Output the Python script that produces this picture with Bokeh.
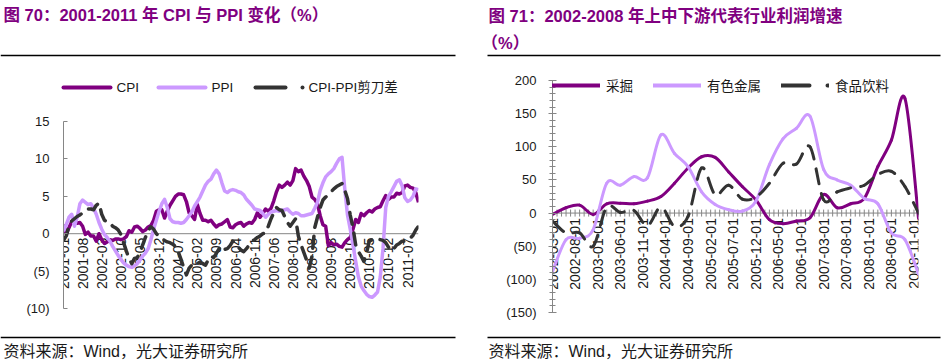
import math
from bokeh.plotting import figure
from bokeh.models import (Range1d, FixedTicker, Span, Legend, LegendItem, ColumnDataSource)
from bokeh.layouts import row, column
from bokeh.core.properties import value
from bokeh.embed import file_html
from bokeh.resources import INLINE

# ---------------- data: left chart (monthly, from 2001-01) ----------------
left_start = "2001-01"
cpi = [1.2, 0.0, 0.8, 1.6, 1.7, 1.4, 1.5, 1.0, -0.1, 0.2, -0.3, -0.3,
       -1.0, 0.0, -0.8, -1.3, -1.1, -0.8, -0.9, -0.7, -0.7, -0.8, -0.7, -0.4,
       0.4, 0.2, 0.9, 1.0, 0.7, 0.3, 0.5, 0.9, 1.1, 1.8, 3.0, 3.2,
       3.2, 2.1, 3.0, 3.8, 4.4, 5.0, 5.3, 5.3, 5.2, 4.3, 2.8, 2.4,
       1.9, 3.9, 2.7, 1.8, 1.8, 1.6, 1.8, 1.3, 0.9, 1.2, 1.3, 1.6,
       1.9, 0.9, 0.8, 1.2, 1.4, 1.5, 1.0, 1.3, 1.5, 1.4, 1.9, 2.8,
       2.2, 2.7, 3.3, 3.0, 3.4, 4.4, 5.6, 6.5, 6.2, 6.5, 6.9, 6.5,
       7.1, 8.7, 8.3, 8.5, 7.7, 7.1, 6.3, 4.9, 4.6, 4.0, 2.4, 1.2,
       1.0, -1.6, -1.2, -1.5, -1.4, -1.7, -1.8, -1.2, -0.8, -0.5, 0.6, 1.9,
       1.5, 2.7, 2.4, 2.8, 3.1, 2.9, 3.3, 3.5, 3.6, 4.4, 5.1, 4.6,
       4.9, 4.9, 5.4, 5.3, 5.5, 6.4, 6.5, 6.2, 6.1, 5.5, 4.2]
ppi = [0.3, 1.2, 2.2, 2.6, 1.0, 2.2, 4.0, 4.5, 4.2, 3.9, 4.0, 3.4,
       2.6, 1.5, 0.6, -0.1, -0.5, -1.0, -1.7, -2.3, -2.9, -3.4, -3.9, -4.2,
       -4.4, -4.5, -4.3, -4.0, -3.5, -3.0, -2.6, -2.0, -0.8, 0.6, 1.8, 3.0,
       4.0, 4.6, 3.5, 2.0, 1.6, 1.5, 1.5, 1.4, 1.5, 1.9, 2.4, 2.9,
       3.7, 4.3, 4.9, 5.7, 6.5, 7.0, 7.3, 8.0, 8.5, 8.0, 6.8, 5.7,
       5.5, 5.8, 5.9, 5.8, 5.6, 5.5, 5.2, 4.6, 4.2, 3.8, 3.3, 3.2,
       3.1, 2.7, 2.2, 2.6, 2.9, 3.0, 3.1, 3.0, 3.1, 3.2, 3.3, 2.9,
       2.6, 2.8, 2.7, 2.4, 2.4, 2.5, 2.6, 2.7, 3.4, 4.2, 5.8, 6.8,
       7.6, 8.0, 8.3, 8.7, 9.4, 10.0, 10.2, 6.0, 2.5, 0.6, -1.5, -3.7,
       -5.8, -7.0, -7.6, -8.1, -8.4, -8.5, -8.2, -7.8, -5.8, -2.0, 3.5, 5.0,
       5.6, 6.3, 7.0, 7.2, 6.4, 4.8, 4.3, 4.5, 5.0, 6.0, 5.9]
cpi_ppi_gap = [-0.9, -0.3, 1.0, 1.7, 2.0, 2.3, 2.5, 2.8, 3.1, 3.3, 3.3, 3.2,
               3.8, 4.1, 2.6, 1.8, 1.6, 1.5, 1.0, 0.8, 0.5, -0.1, -1.2, -2.3,
               -3.3, -4.0, -3.3, -3.2, -2.5, -1.5, -0.5, 0.4, 0.9, 0.6, 0.0, -0.3,
               -0.6, -0.9, -1.1, -1.2, -1.4, -1.7, -2.4, -3.4, -4.5, -5.5, -4.6, -4.2,
               -4.4, -4.0, -3.8, -4.0, -4.2, -3.5, -3.0, -3.2, -2.6, -2.0, -1.6, -2.1,
               -2.0, -1.6, -1.0, -1.4, -1.8, -2.2, -2.4, -2.0, -1.5, -1.0, -0.8, -0.5,
               -0.3, 0.0, 0.1, 1.0, 2.0, 2.8, 3.5, 3.2, 3.1, 2.3, 1.5, 1.0,
               1.5, 2.0, -0.3, -1.5, -2.5, -3.5, -4.6, -3.0, 0.8, 2.2, 3.5, 4.5,
               4.9, 5.2, 5.6, 6.0, 6.3, 6.5, 6.7, 5.8, 4.7, 2.5, 0.8, -1.5,
               -2.4, -3.0, -3.7, -2.5, -1.0, -0.8, -0.6, -0.7, -0.8, -0.9, -1.2, -1.8,
               -2.3, -2.0, -1.5, -1.3, -1.0, -1.0, -0.9, -0.6, -0.2, 0.5, 1.0]
left_xlabels = ["2001-01", "2001-08", "2002-03", "2002-10", "2003-05", "2003-12",
                "2004-07", "2005-02", "2005-09", "2006-04", "2006-11", "2007-06",
                "2008-01", "2008-08", "2009-03", "2009-10", "2010-05", "2010-12",
                "2011-07"]
left_yticks = [-10, -5, 0, 5, 10, 15]
left_ylabels = ["(10)", "(5)", "0", "5", "10", "15"]
left_names = ["CPI", "PPI", "CPI-PPI剪刀差"]

# ---------------- data: right chart (quarterly) ----------------
right_start = "2002-03"
right_dates = ["2002-03", "2002-06", "2002-09", "2002-12", "2003-03", "2003-06", "2003-09",
               "2003-12", "2004-03", "2004-06", "2004-09", "2004-12", "2005-03", "2005-06",
               "2005-09", "2005-12", "2006-03", "2006-06", "2006-09", "2006-12", "2007-03",
               "2007-06", "2007-09", "2007-12", "2008-03", "2008-06", "2008-09", "2008-12"]
mining = [-2, 8, 12, -2, 14, 15, 14, 18, 25, 45, 68, 85, 84, 62,
          40, 20, -10, -16, -12, -7, 28, 8, 14, 22, 70, 110, 173, -8]
metals = [-88, -40, -38, -25, 45, 42, 55, 53, 118, 90, 70, 32, 13, 5,
          3, 18, 73, 112, 128, 146, 66, 50, 42, 22, 14, -30, -40, -92]
food = [-12, -30, -30, -50, 9, 1, 4, -19, 9, -20, -5, 68, 28, 42,
        21, 24, 45, 75, 74, 100, 20, 32, 38, 42, 58, 63, 40, 0]
right_xlabels = ["2002-03-01", "2002-08-01", "2003-01-01", "2003-06-01", "2003-11-01",
                 "2004-04-01", "2004-09-01", "2005-02-01", "2005-07-01", "2005-12-01",
                 "2006-05-01", "2006-10-01", "2007-03-01", "2007-08-01", "2008-01-01",
                 "2008-06-01", "2008-11-01"]
right_last = "2008-12"
right_yticks = [-150, -100, -50, 0, 50, 100, 150, 200]
right_ylabels = ["(150)", "(100)", "(50)", "0", "50", "100", "150", "200"]
right_minor = list(range(-150, 201, 10))
right_names = ["采掘", "有色金属", "食品饮料"]

left_title = "图 70：2001-2011 年 CPI 与 PPI 变化（%）"
right_title1 = "图 71：2002-2008 年上中下游代表行业利润增速"
right_title2 = "（%）"
source_note = "资料来源：Wind，光大证券研究所"

# ---------------- styles ----------------
PURPLE = "#800080"
LAVENDER = "#CC99FF"
DARK = "#333333"
AXIS = "#868686"
TXT = "#1a1a1a"
LATIN = "Liberation Sans"
MIXED = "Liberation Sans, Noto Sans CJK SC"
W = 475
HEAD_L, HEAD_R, CHART_L, CHART_R, FOOT = 108, 68, 215, 255, 40


def month_index(s, base):
    return (int(s[:4]) - int(base[:4])) * 12 + int(s[5:7]) - int(base[5:7])


def no_align(p):
    try:
        p.frame_align = False
    except Exception:
        pass


def plain_fig(h):
    """Figure whose frame is the whole canvas (titles, rules, notes, legend)."""
    p = figure(width=W, height=h, output_backend="svg", toolbar_location=None,
               title=None, x_range=Range1d(0, W), y_range=Range1d(h, 0),
               x_axis_location=None, y_axis_location=None,
               min_border_left=0, min_border_right=0, min_border_top=0,
               min_border_bottom=0)
    p.grid.visible = False
    p.outline_line_color = None
    p.background_fill_color = "white"
    p.border_fill_color = "white"
    no_align(p)
    return p


def chart_fig(h, xmax, yr, left, right, top, bottom):
    p = figure(width=W, height=h, output_backend="svg", toolbar_location=None,
               title=None, x_range=Range1d(0, xmax), y_range=Range1d(*yr),
               x_axis_location=None, y_axis_location="left",
               min_border_left=left, min_border_right=right,
               min_border_top=top, min_border_bottom=bottom)
    p.grid.visible = False
    p.outline_line_color = None
    p.background_fill_color = "white"
    p.border_fill_color = "white"
    no_align(p)
    return p


def style_y(ax, ticks, labels, tin, tout, standoff, minor=None):
    ax.ticker = FixedTicker(ticks=ticks, minor_ticks=minor or [])
    ax.bounds = (ticks[0], ticks[-1])
    ax.major_label_overrides = {t: l for t, l in zip(ticks, labels)}
    ax.axis_line_color = AXIS
    ax.major_tick_line_color = AXIS
    ax.major_tick_in = tin
    ax.major_tick_out = tout
    if minor:
        ax.minor_tick_line_color = AXIS
        ax.minor_tick_in = 3
        ax.minor_tick_out = 3
    else:
        ax.minor_tick_line_color = None
    ax.major_label_text_font = LATIN
    ax.major_label_text_font_size = "13px"
    ax.major_label_text_color = TXT
    ax.major_label_standoff = standoff


def put_text(p, x, y, text, size, bold=False, color=TXT):
    p.text(x=[x], y=[y], text=[text], text_font=value(MIXED),
           text_font_size=value(size), text_font_style=value("bold" if bold else "normal"),
           text_color=color, text_align="left", text_baseline="middle")


def put_rule(p, x0, x1, y):
    p.segment(x0=[x0], y0=[y], x1=[x1], y1=[y], line_color="black", line_width=1.3)


def bezier_parts(x, y):
    n = len(x)
    d = dict(x0=[], y0=[], x1=[], y1=[], cx0=[], cy0=[], cx1=[], cy1=[])
    for i in range(n - 1):
        xm, ym = (x[i - 1], y[i - 1]) if i > 0 else (x[i], y[i])
        xp, yp = (x[i + 2], y[i + 2]) if i + 2 < n else (x[i + 1], y[i + 1])
        d["x0"].append(x[i]); d["y0"].append(y[i])
        d["x1"].append(x[i + 1]); d["y1"].append(y[i + 1])
        d["cx0"].append(x[i] + (x[i + 1] - xm) / 6.0)
        d["cy0"].append(y[i] + (y[i + 1] - ym) / 6.0)
        d["cx1"].append(x[i + 1] - (xp - x[i]) / 6.0)
        d["cy1"].append(y[i + 1] - (yp - y[i]) / 6.0)
    return d


def dash_offsets(d, kx, ky, period):
    """Cumulative on-screen length of each curve piece, so dashes run on."""
    offs, total = [], 0.0
    for i in range(len(d["x0"])):
        offs.append(int(round(total)) % period)
        px = [d["x0"][i], d["cx0"][i], d["cx1"][i], d["x1"][i]]
        py = [d["y0"][i], d["cy0"][i], d["cy1"][i], d["y1"][i]]
        prev = None
        for k in range(25):
            t = k / 24.0
            a, b, c, e = (1 - t) ** 3, 3 * t * (1 - t) ** 2, 3 * t * t * (1 - t), t ** 3
            sx = (a * px[0] + b * px[1] + c * px[2] + e * px[3]) * kx
            sy = (a * py[0] + b * py[1] + c * py[2] + e * py[3]) * ky
            if prev is not None:
                total += math.hypot(sx - prev[0], sy - prev[1])
            prev = (sx, sy)
    return offs


# ================= left panel =================
h1 = plain_fig(HEAD_L)
put_text(h1, 3, 14, left_title, "16.5px", bold=True, color=PURPLE)
put_rule(h1, 0, 455, 55)
LEG_Y = 87
h1.segment(x0=[63, 158, 255], y0=[LEG_Y] * 3, x1=[110, 205, 285], y1=[LEG_Y] * 3,
           line_color=[PURPLE, LAVENDER, DARK], line_width=4, line_cap="round")
h1.scatter(x=[302], y=[LEG_Y], marker="circle", size=4, fill_color=DARK, line_color=None)
h1.text(x=[116, 211, 308], y=[LEG_Y] * 3, text=left_names, text_font=value(MIXED),
        text_font_size=value("13.5px"), text_color=TXT, text_align="left",
        text_baseline="middle")

c1 = chart_fig(CHART_L, len(cpi) - 1, (left_yticks[0], left_yticks[-1]), 63, 57, 13, 15)
style_y(c1.yaxis[0], left_yticks, left_ylabels, 4, 0, 14)
c1.add_layout(Span(location=0, dimension="width", line_color=AXIS, line_width=1,
                   level="underlay"))
lx = [month_index(s, left_start) for s in left_xlabels]
c1.text(x=lx, y=[0] * len(lx), text=left_xlabels, angle=math.pi / 2,
        text_align="right", text_baseline="middle", y_offset=4,
        text_font=value(LATIN), text_font_size=value("14px"), text_color=TXT)
xs = list(range(len(cpi)))
c1.line(xs, cpi, line_color=PURPLE, line_width=3.5, line_join="round")
c1.line(xs, ppi, line_color=LAVENDER, line_width=3.5, line_join="round")
c1.line(xs, cpi_ppi_gap, line_color=DARK, line_width=3.5, line_dash="12 9",
        line_cap="round", line_join="round")

f1 = plain_fig(FOOT)
put_rule(f1, 0, 455, 14)
put_text(f1, 3, 28, source_note, "16px")

# ================= right panel =================
h2 = plain_fig(HEAD_R)
put_text(h2, 13, 15, right_title1, "16.5px", bold=True, color=PURPLE)
put_text(h2, 6, 42.5, right_title2, "16.5px", bold=True, color=PURPLE)
put_rule(h2, 12, 465, 55)

RFL, RFR, RFT, RFB = 77, 32, 7, 11
frame_h = CHART_R - RFT - RFB
ky = 232.0 / (right_yticks[-1] - right_yticks[0])
ytop = right_yticks[-1] + (frame_h - 232) / ky
nmonths = month_index(right_last, right_start)
kx = (W - RFL - RFR) / nmonths
c2 = chart_fig(CHART_R, nmonths, (right_yticks[0], ytop), RFL, RFR, RFT, RFB)
style_y(c2.yaxis[0], right_yticks, right_ylabels, 4, 4, 12, minor=right_minor)
c2.add_layout(Span(location=0, dimension="width", line_color=AXIS, line_width=1,
                   level="underlay"))
month_ticks = list(range(nmonths + 1))
c2.scatter(x=month_ticks, y=[0] * len(month_ticks), marker="dash", angle=math.pi / 2,
           size=7, line_color=AXIS, line_width=1)
rx = [month_index(s, right_start) for s in right_xlabels]
c2.text(x=rx, y=[0] * len(rx), text=right_xlabels, angle=math.pi / 2,
        text_align="right", text_baseline="middle", y_offset=5,
        text_font=value(LATIN), text_font_size=value("14px"), text_color=TXT)

qx = [month_index(s, right_start) for s in right_dates]
c2.bezier(source=ColumnDataSource(bezier_parts(qx, mining)), x0="x0", y0="y0", x1="x1",
          y1="y1", cx0="cx0", cy0="cy0", cx1="cx1", cy1="cy1",
          line_color=PURPLE, line_width=3, line_cap="round")
c2.bezier(source=ColumnDataSource(bezier_parts(qx, metals)), x0="x0", y0="y0", x1="x1",
          y1="y1", cx0="cx0", cy0="cy0", cx1="cx1", cy1="cy1",
          line_color=LAVENDER, line_width=3, line_cap="round")
fd = bezier_parts(qx, food)
fd["off"] = dash_offsets(fd, kx, ky, 25)
fsrc = ColumnDataSource(fd)
try:
    c2.bezier(source=fsrc, x0="x0", y0="y0", x1="x1", y1="y1", cx0="cx0", cy0="cy0",
              cx1="cx1", cy1="cy1", line_color=DARK, line_width=3, line_dash="15 10",
              line_dash_offset="off", line_cap="round")
except Exception:
    c2.bezier(source=fsrc, x0="x0", y0="y0", x1="x1", y1="y1", cx0="cx0", cy0="cy0",
              cx1="cx1", cy1="cy1", line_color=DARK, line_width=3, line_dash="15 10",
              line_cap="round")

# legend swatches: renderers lying outside the visible x range
off = [-10, -9]
rg1 = c2.line(off, [0, 0], line_color=PURPLE, line_width=4, line_cap="round")
rg2 = c2.line(off, [0, 0], line_color=LAVENDER, line_width=4, line_cap="round")
rg3 = c2.line(off, [0, 0], line_color=DARK, line_width=4, line_cap="round",
              line_dash="28 18 1 30")
c2.add_layout(Legend(items=[LegendItem(label=right_names[0], renderers=[rg1]),
                            LegendItem(label=right_names[1], renderers=[rg2]),
                            LegendItem(label=right_names[2], renderers=[rg3])],
                     location="top_left", orientation="horizontal", padding=0, margin=0,
                     spacing=20, glyph_width=48, glyph_height=16, label_height=16,
                     label_standoff=6, label_text_font=MIXED,
                     label_text_font_size="13.5px", label_text_color=TXT,
                     background_fill_alpha=0, border_line_color=None))

f2 = plain_fig(FOOT)
put_rule(f2, 12, 465, 14)
put_text(f2, 13, 28, source_note, "16px")

layout = row(column(h1, c1, f1, spacing=0), column(h2, c2, f2, spacing=0), spacing=0)
with open("out.html", "w", encoding="utf-8") as f:
    f.write(file_html(layout, INLINE))
